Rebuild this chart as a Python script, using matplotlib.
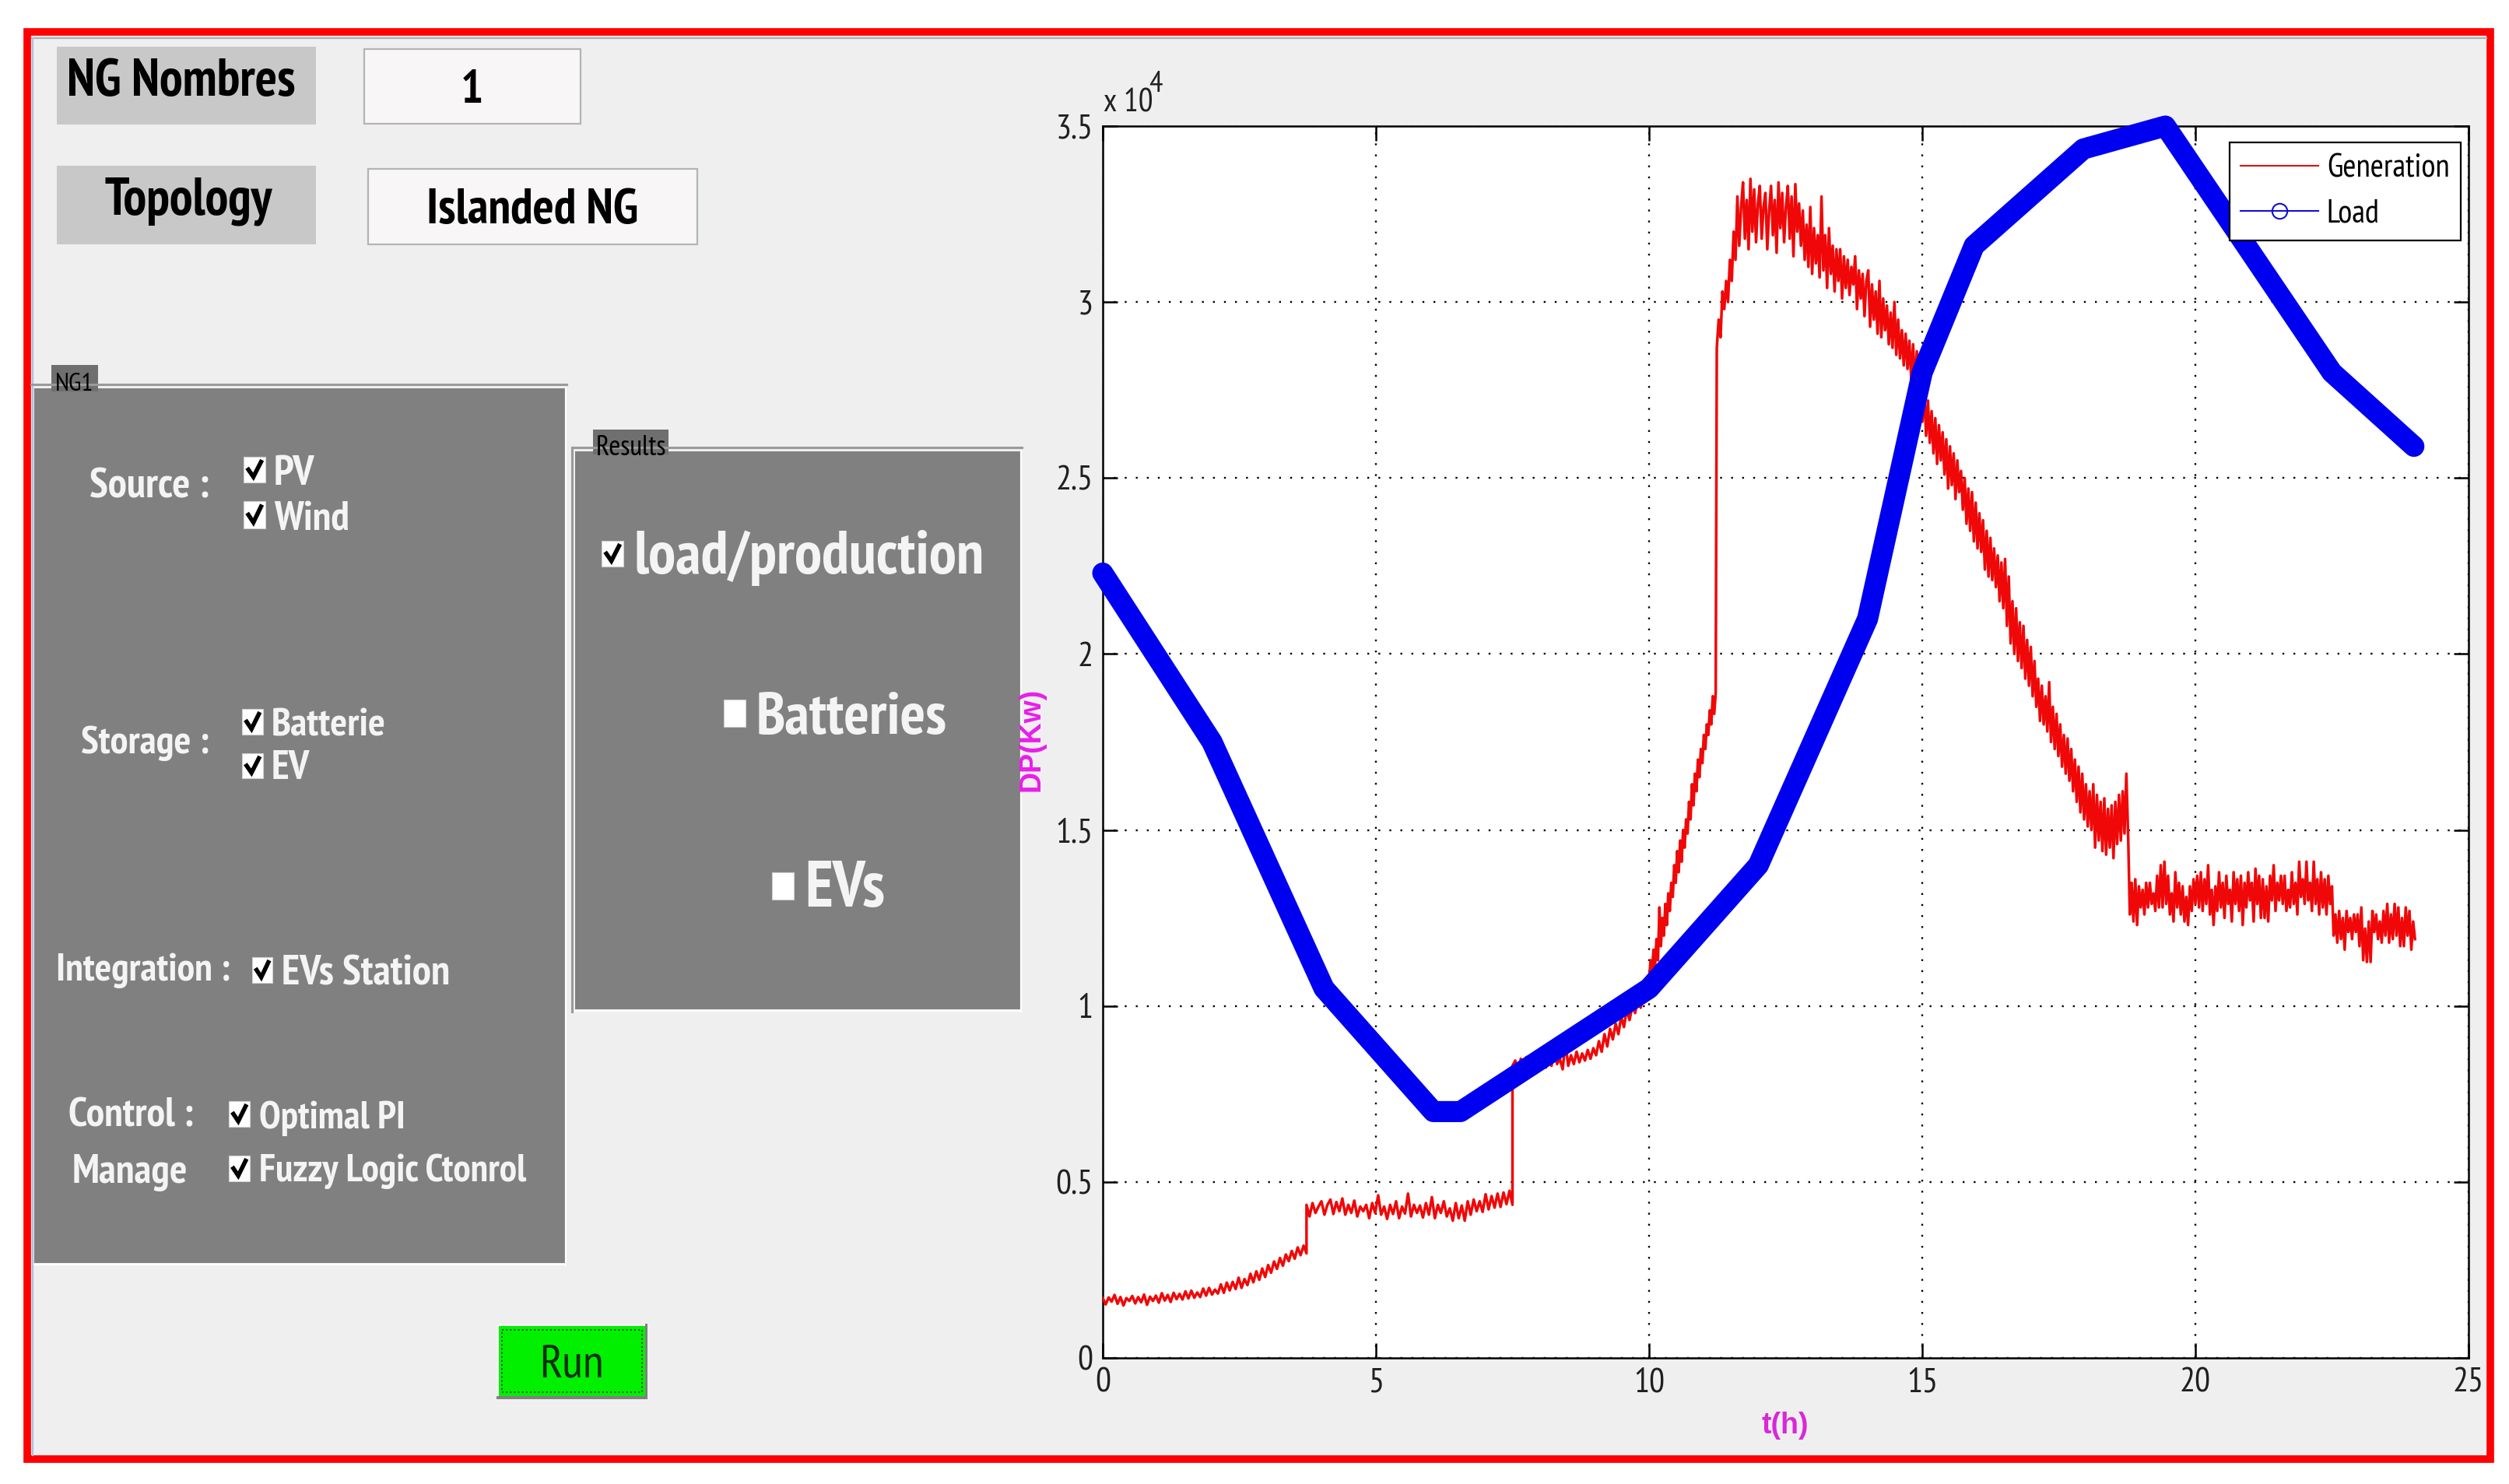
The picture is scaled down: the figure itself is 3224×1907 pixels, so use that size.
"""GUI screenshot with generation / load curves."""

import matplotlib

matplotlib.use("Agg")

import matplotlib.pyplot as plt
import numpy as np
from matplotlib.lines import Line2D
from matplotlib.patches import Rectangle

WIDTH = 3224
HEIGHT = 1907
NARROW = ["PT Sans Narrow", "Archivo Narrow", "Liberation Sans", "DejaVu Sans"]

x_ticks = [0, 5, 10, 15, 20, 25]
y_ticks = [0, 5000, 10000, 15000, 20000, 25000, 30000, 35000]
y_tick_labels = ["0", "0.5", "1", "1.5", "2", "2.5", "3", "3.5"]

load_hours = [0, 2, 4.05, 6.05, 6.55, 10, 12, 14, 15, 15.95, 17.95, 19.45, 22.5, 24]
load_kw = [22300, 17500, 10500, 7000, 7000, 10500, 14000, 21000, 28000, 31600, 34350, 35000, 28000, 25900]

# generation trace, one list per stretch between the jumps
gen_a_span = (0, 3.73)
gen_a = [1700, 1520, 1720, 1600, 1790, 1540, 1730, 1490, 1700, 1620, 1760, 1550, 1730, 1580, 1800, 1510, 1740, 1620,
         1770, 1570, 1840, 1630, 1790, 1590, 1850, 1670, 1820, 1660, 1890, 1690, 1910, 1710, 1860, 1730, 1970, 1770,
         1990, 1800, 1940, 1830, 2090, 1850, 2140, 1920, 2160, 1960, 2280, 1990, 2240, 2070, 2390, 2150, 2460, 2220,
         2540, 2300, 2640, 2420, 2740, 2530, 2840, 2620, 2940, 2750, 3040, 2820, 3140, 2920, 3190, 2970]
gen_b_span = (3.73, 7.5)
gen_b = [4350, 4020, 4400, 4120, 4300, 4450, 4070, 4350, 4500, 4090, 4430, 4170, 4530, 4070, 4350, 4120, 4470, 4020,
         4300, 4170, 4350, 3970, 4400, 4120, 4620, 4070, 4300, 3950, 4350, 4090, 4450, 3970, 4300, 4100, 4670, 4020,
         4350, 4120, 4330, 3990, 4400, 4070, 4570, 3970, 4350, 4120, 4450, 4020, 4250, 3900, 4400, 3970, 4330, 3900,
         4450, 4070, 4500, 4170, 4450, 4150, 4650, 4220, 4600, 4270, 4670, 4290, 4700, 4370, 4750, 4350]
gen_c_span = (7.5, 10)
gen_c = [8300, 8450, 8100, 8500, 8200, 8550, 8150, 8600, 8250, 8700, 8300, 8450, 8250, 8650, 8300, 8800, 8350, 8500,
         8200, 8950, 8300, 8600, 8350, 8700, 8400, 8650, 8450, 8750, 8500, 8800, 8600, 9000, 8700, 9200, 8850, 9350,
         9050, 9500, 9200, 9700, 9400, 9900, 9600, 10000, 9800, 10200, 9950, 10400, 10150, 10500]
gen_d_span = (10, 11.22)
gen_d = [10700, 11300, 10900, 11600, 11100, 11900, 11300, 12800, 11700, 12500, 12000, 12900, 12300, 13200, 12700,
         13500, 13100, 14000, 13500, 14400, 13800, 14700, 14100, 15000, 14500, 15300, 14900, 15800, 15300, 16300,
         15700, 16600, 16100, 17000, 16500, 17300, 16900, 17700, 17300, 18000, 17700, 18400, 18000, 18800, 18300, 18900]
gen_e_span = (11.24, 14.97)
gen_e = [28700, 29500, 29000, 30300, 29800, 30600, 30000, 31200, 30600, 32000, 31200,
         33000, 31600, 32700, 33400, 31800, 32900, 31500, 33500, 32000, 33200, 31700, 32800, 33300, 31800, 32700,
         33100, 31500, 32600, 33300, 31900, 32900, 31400, 33400, 32100, 33100, 31700, 32700, 33300, 31800, 33000,
         31300, 33350, 32000, 32800, 31600,
         32600, 31200, 32200, 31000, 32700, 30800, 32100, 31100, 31900, 30700, 33000, 30900, 31900, 30400, 32100,
         30800, 31600, 30300, 31500, 30600, 31500, 30100, 31300, 30400, 31200, 30200, 31000, 30500, 31300, 29800,
         30900, 30100, 30800, 29600, 30600,
         30900, 29300, 30500, 29500, 30300, 29100, 30600, 29000, 30100, 29200, 29900, 28800, 29700, 28700, 30000,
         28500, 29500, 28400, 29200, 28200, 29100, 28100, 28900, 27800, 28800, 27600, 28600, 27500, 28400]
gen_f_span = (14.97, 18.77)
gen_f = [27500, 26600, 27500, 26200, 27200, 26000, 26900, 25700, 26700, 25400, 26500, 25500, 26300, 25100, 26100,
         24700, 25900, 24800, 25700, 24400, 25500, 24600, 25200, 24100, 25000, 23700, 24700, 23500, 24600, 23200,
         24300, 23000, 24000, 22900, 23800, 22400, 23500, 22200, 23300, 22100, 23000, 21900, 22800, 21500, 22600,
         21300, 22700, 20800, 22200, 20300, 21500, 20000, 21300, 19800, 20900, 19600, 20800, 19300, 20400, 19100,
         20200, 18800, 19800, 18500, 19300, 18100, 19100, 18000, 18800, 17800, 19200, 17500, 18500, 17300, 18300,
         17100, 18000, 16800, 17700, 16600, 17600, 16400, 17300, 16100, 17000, 15800, 16800, 15500, 16600, 15300,
         16300, 15100, 16100, 15000, 16300, 14500, 16000, 14700, 15800, 14400, 15900, 14300, 15600, 14500, 15700,
         14200, 15800, 14600, 16000, 14700, 16100, 14900, 16600, 14800]
gen_g_span = (18.8, 22.5)
gen_g = [12600, 13500, 12400, 13600, 12300, 13400, 12800, 13300, 12600, 13500, 12800, 13500, 12900, 13200, 12700,
         13700, 12800, 14000, 12800, 14100, 12900, 13700, 12600, 13200, 12400, 13800, 12800, 13500, 12600, 13400,
         12400, 13100, 12300, 13400, 12700, 13600, 12900, 13700, 12800, 13800, 12700, 13600, 12900, 14000, 12600,
         13300, 12300, 13400, 12700, 13800, 12800, 13500, 12500, 13700, 12900, 13300, 12400, 13800, 12900, 13600,
         12700, 13700, 12300, 13500, 12800, 13800, 13000, 13500, 12400, 13900, 12900, 13700, 12500, 13600, 12500,
         13400, 12400, 13700, 13000, 14000, 12700, 13500, 13000, 13700, 12900, 13700, 12700, 13300, 12800, 13800,
         12900, 13500, 12600, 14100, 13100, 13600, 12900, 14100, 13000, 13500, 12700, 14100, 12900, 13600, 12600,
         13800, 12800, 13600, 12600, 13700, 12900, 13400]
gen_h_span = (22.53, 24.02)
gen_h = [12000, 12600, 11800, 12700, 11900, 12500, 11600, 12700, 12100, 12500, 11900, 12600, 12100, 12600, 11700,
         12800, 11300, 12200, 11250, 12400, 11250, 12700, 12100, 12600, 11900, 12400, 11800, 12700, 12000, 12900,
         11800, 12600, 11900, 12900, 12000, 12800, 11700, 12500, 11700, 12800, 12000, 12700, 11600, 12400, 11900]


def _label(ax, x, y, text, size, weight="bold", color="#f4f4f4", ha="left", family=NARROW):
    ax.text(x, y, text, fontsize=size, fontweight=weight, color=color, ha=ha, va="baseline", family=family)


def _checkbox(ax, x0, y0, x1, y1, checked=True):
    ax.add_patch(Rectangle((x0, y0), x1 - x0, y1 - y0, facecolor="white", edgecolor="#d0d0d0", linewidth=0.8))
    if checked:
        w = x1 - x0
        h = y1 - y0
        ax.plot([x0 + 0.22 * w, x0 + 0.45 * w, x0 + 0.8 * w],
                [y0 + 0.5 * h, y0 + 0.78 * h, y0 + 0.2 * h],
                color="black", linewidth=4, solid_joinstyle="miter")


def _panel(ax, x0, y0, x1, y1, tab_x0, tab_x1, tab_y0, title, title_size, title_base):
    ax.add_patch(Rectangle((x0, y0), x1 - x0, y1 - y0, facecolor="#808080", edgecolor="none"))
    ax.plot([x0 - 4, x1 + 2], [y0 - 5, y0 - 5], color="#9a9a9a", linewidth=2.2)
    ax.plot([x1 + 1, x1 + 1], [y0, y1 + 3], color="white", linewidth=1.6)
    ax.plot([x0, x1], [y1 + 2, y1 + 2], color="white", linewidth=1.6)
    ax.add_patch(Rectangle((tab_x0, tab_y0), tab_x1 - tab_x0, y0 + 4 - tab_y0, facecolor="#6f6f6f", edgecolor="none"))
    _label(ax, (tab_x0 + tab_x1) / 2, title_base, title, title_size, weight="normal", color="black", ha="center")


def draw_gui(ax):
    ax.set_xlim(0, WIDTH)
    ax.set_ylim(HEIGHT, 0)
    ax.axis("off")
    ax.add_patch(Rectangle((35, 41), 3165, 1834, facecolor="#efefef", edgecolor="#ff0000", linewidth=7))
    ax.plot([41, 3195], [49, 49], color="#b0b0b0", linewidth=1.6)
    ax.plot([42, 42], [49, 1870], color="#aebfe0", linewidth=1.6)

    # top boxes
    for x0, y0, x1, y1 in [(73, 60, 406, 160), (73, 213, 406, 314)]:
        ax.add_patch(Rectangle((x0, y0), x1 - x0, y1 - y0, facecolor="#c8c8c8", edgecolor="none"))
    for x0, y0, x1, y1 in [(468, 63, 746, 159), (473, 217, 896, 314)]:
        ax.add_patch(Rectangle((x0, y0), x1 - x0, y1 - y0, facecolor="#f8f6f6", edgecolor="#b4b4b4", linewidth=1.6))
    _label(ax, 233, 123, "NG Nombres", 48, color="black", ha="center")
    _label(ax, 242, 275, "Topology", 48, color="black", ha="center")
    _label(ax, 606, 132, "1", 44, color="black", ha="center")
    _label(ax, 684, 287, "Islanded NG", 46, color="black", ha="center")

    # NG1 panel
    _panel(ax, 44, 499, 726, 1623, 66, 126, 469, "NG1", 24, 502)
    _label(ax, 269, 639, "Source :", 39, ha="right")
    _label(ax, 269, 968, "Storage :", 37, ha="right")
    _label(ax, 72, 1260, "Integration :", 36.5)
    _label(ax, 88, 1448, "Control :", 38)
    _label(ax, 93, 1520, "Manage", 38)
    for box, text, base, size, text_x in [((313, 587, 341, 620), "PV", 623, 39, 352),
                                          ((313, 644, 341, 679), "Wind", 682, 38, 352),
                                          ((311, 911, 338, 944), "Batterie", 946, 37, 349),
                                          ((311, 968, 338, 1000), "EV", 1001, 38, 349),
                                          ((324, 1230, 350, 1263), "EVs Station", 1266, 39, 362),
                                          ((294, 1415, 321, 1448), "Optimal PI", 1450, 36, 333),
                                          ((294, 1485, 321, 1518), "Fuzzy Logic Ctonrol", 1518, 36, 333)]:
        _checkbox(ax, *box)
        _label(ax, text_x, base, text, size)

    # Results panel
    _panel(ax, 739, 580, 1311, 1297, 762, 859, 552, "Results", 26, 585)
    ax.plot([735, 735], [575, 1300], color="#9a9a9a", linewidth=2.2)
    _checkbox(ax, 773, 695, 801, 728)
    _label(ax, 815, 737, "load/production", 56.5)
    _checkbox(ax, 930, 899, 958, 934, checked=False)
    _label(ax, 972, 943, "Batteries", 55)
    _checkbox(ax, 992, 1121, 1020, 1156, checked=False)
    _label(ax, 1034, 1165, "EVs", 60)

    # Run button
    ax.add_patch(Rectangle((638, 1701), 194, 97, facecolor="#808080", edgecolor="none"))
    ax.add_patch(Rectangle((638, 1701), 191, 93, facecolor="#f4f4f4", edgecolor="none"))
    ax.add_patch(Rectangle((641, 1704), 188, 90, facecolor="#00f000", edgecolor="none"))
    ax.add_patch(Rectangle((645, 1709), 180, 80, facecolor="none", edgecolor="#104010", linewidth=1.4, linestyle=":"))
    _label(ax, 734, 1769, "Run", 44, weight="normal", color="#0c300c", ha="center")


def draw_chart(ax):
    ax.set_xlim(0, 25)
    ax.set_ylim(0, 35000)
    ax.set_xticks(x_ticks)
    ax.set_yticks(y_ticks)
    ax.set_yticklabels(y_tick_labels)
    ax.set_axisbelow(True)
    ax.grid(True, color="black", linewidth=1.7, linestyle=(0, (1, 5)))
    ax.tick_params(direction="in", top=True, right=True, length=14, width=1.8, labelsize=32,
                   labelcolor="#202020", pad=9)
    for label in ax.get_xticklabels() + ax.get_yticklabels():
        label.set_family(NARROW)
    for spine in ax.spines.values():
        spine.set_linewidth(1.8)

    gen_hours = []
    gen_kw = []
    for span, values in [(gen_a_span, gen_a), (gen_b_span, gen_b), (gen_c_span, gen_c), (gen_d_span, gen_d),
                         (gen_e_span, gen_e), (gen_f_span, gen_f), (gen_g_span, gen_g), (gen_h_span, gen_h)]:
        gen_hours.extend(np.linspace(span[0], span[1], len(values)))
        gen_kw.extend(values)
    ax.plot(gen_hours, gen_kw, color="#f00808", linewidth=2.5, zorder=3)
    ax.plot(load_hours, load_kw, color="#0000f0", linewidth=19.5, solid_capstyle="round",
            solid_joinstyle="round", clip_on=False, zorder=4)

    handles = [Line2D([0], [0], color="#e01010", linewidth=1.5),
               Line2D([0], [0], color="#1010d0", linewidth=1.5, marker="o", markersize=14,
                      markerfacecolor="none", markeredgewidth=1.5)]
    legend = ax.legend(handles, ["Generation", "Load"], loc="upper right", bbox_to_anchor=(3162 / WIDTH, 1 - 183 / HEIGHT),
                       bbox_transform=ax.figure.transFigure, borderaxespad=0, fancybox=False, framealpha=1,
                       edgecolor="black", prop={"family": NARROW, "size": 30}, handlelength=2.4, handletextpad=0.25,
                       labelspacing=0.45, borderpad=0.35)
    legend.get_frame().set_linewidth(1.6)
    legend.set_zorder(10)


figure = plt.figure(figsize=(WIDTH / 100, HEIGHT / 100), dpi=100, facecolor="white")
gui_axes = figure.add_axes([0, 0, 1, 1])
draw_gui(gui_axes)

chart_axes = figure.add_axes([1417 / WIDTH, 1 - 1745 / HEIGHT, (3172 - 1417) / WIDTH, (1745 - 162) / HEIGHT])
draw_chart(chart_axes)

# axis captions sit on the gui layer, same place as in the screenshot
_label(gui_axes, 1418, 143, "x 10", 30, weight="normal", color="#202020")
_label(gui_axes, 1476, 118, "4", 28, weight="normal", color="#202020")
gui_axes.text(1326, 950, "DP(Kw)", rotation=90, fontsize=27, fontweight="bold", color="#e81ee8",
              ha="center", va="center", family=["Liberation Sans"])
gui_axes.text(2294, 1832, "t(h)", fontsize=27, fontweight="bold", color="#d828d8",
              ha="center", va="center", family=["Liberation Sans"])

figure.savefig("out.png", dpi=100)
